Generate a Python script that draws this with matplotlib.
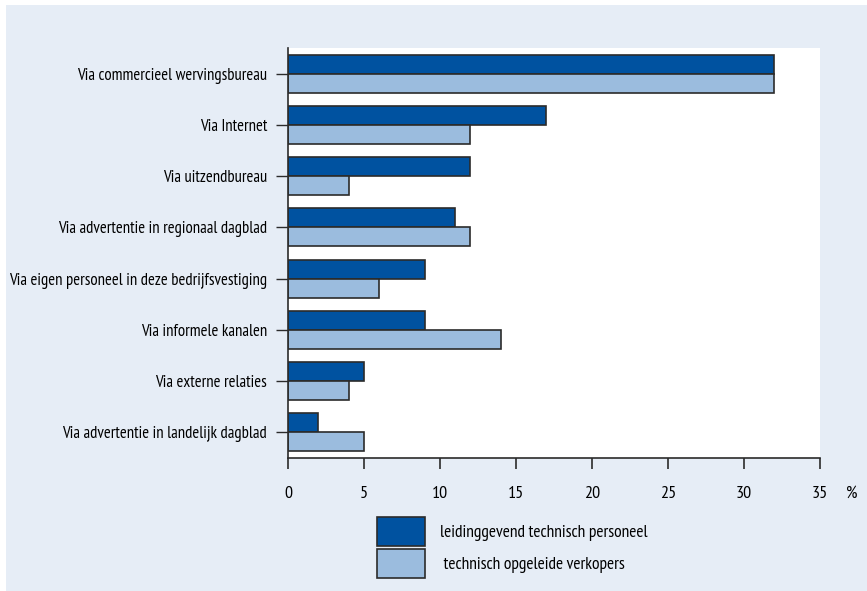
import matplotlib
matplotlib.use("Agg")
import matplotlib.pyplot as plt
from matplotlib.patches import Rectangle, Patch
import numpy as np

plt.rcParams['font.family'] = ['PT Sans Narrow', 'Fira Sans Condensed', 'DejaVu Sans']

#------------------DATA------------------#

categories = [
    "Via commercieel wervingsbureau",
    "Via Internet",
    "Via uitzendbureau",
    "Via advertentie in regionaal dagblad",
    "Via eigen personeel in deze bedrijfsvestiging",
    "Via informele kanalen",
    "Via externe relaties",
    "Via advertentie in landelijk dagblad",
]
leidinggevend = [32, 17, 12, 11, 9, 9, 5, 2]
verkopers = [32, 12, 4, 12, 6, 14, 4, 5]
series_names = ["leidinggevend technisch personeel", " technisch opgeleide verkopers"]
xticks = [0, 5, 10, 15, 20, 25, 30, 35]

#----------------------------------------#

dark = "#0052a0"
light = "#9bbcde"
edge = "#2b2b2b"
bg = "#e6edf6"

fig = plt.figure(figsize=(8.67, 5.91), dpi=100, facecolor="white")
fig.patches.append(Rectangle((6/867, 0), 1 - 6/867, 1 - 5/591, transform=fig.transFigure,
                             facecolor=bg, edgecolor="none", zorder=-5))

ax = fig.add_axes([288/867, 133/591, 532/867, 410/591])
ax.set_facecolor("white")

y = np.arange(len(categories))
h = 0.37
ax.barh(y - h/2, leidinggevend, height=h, color=dark, edgecolor=edge, linewidth=1.2)
ax.barh(y + h/2, verkopers, height=h, color=light, edgecolor=edge, linewidth=1.2)

ax.set_ylim(len(categories) - 0.5, -0.5)
ax.set_xlim(0, 35)
ax.set_yticks(y)
ax.set_yticklabels(categories, fontsize=12)
ax.set_xticks(xticks)
ax.set_xticklabels([str(t) for t in xticks], fontsize=13)

ax.tick_params(axis="y", length=9, width=1, color=edge, pad=6)
ax.tick_params(axis="x", length=8, width=1.2, color=edge, pad=12)

for s in ["top", "right"]:
    ax.spines[s].set_visible(False)
for s in ["left", "bottom"]:
    ax.spines[s].set_color(edge)
    ax.spines[s].set_linewidth(1.2)

ax.annotate("%", xy=(35, 0), xycoords=("data", "axes fraction"),
            xytext=(23, -20), textcoords="offset points",
            ha="center", va="top", fontsize=13)

handles = [Patch(facecolor=dark, edgecolor=edge, linewidth=1.2),
           Patch(facecolor=light, edgecolor=edge, linewidth=1.2)]
fig.legend(handles, series_names, loc="upper left",
           bbox_to_anchor=(377/867, 1 - 517/591), frameon=False,
           borderpad=0, borderaxespad=0, fontsize=12.5,
           handlelength=2.75, handleheight=2.15, handletextpad=0.9,
           labelspacing=0.22)

fig.savefig("out.png", dpi=100, facecolor=fig.get_facecolor())
